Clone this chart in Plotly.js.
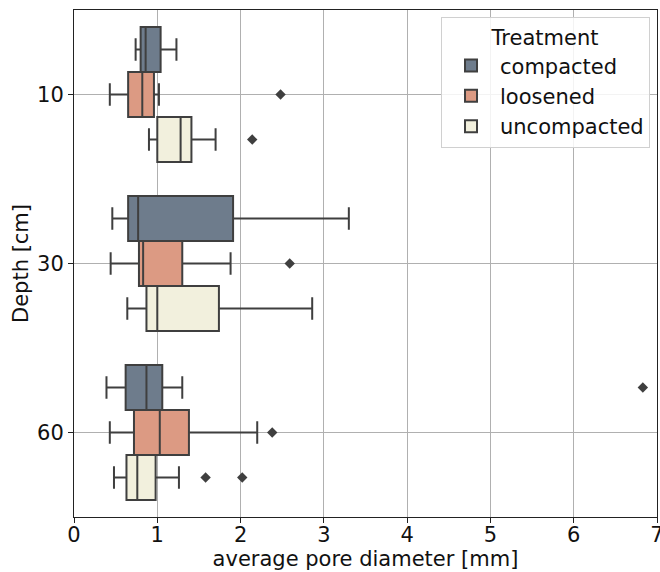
<!DOCTYPE html>
<html>
<head>
<meta charset="utf-8">
<script src="https://cdn.plot.ly/plotly-3.0.1.min.js"></script>
<style>
  html, body { margin: 0; padding: 0; background: #ffffff; }
  #chart { width: 660px; height: 572px; }
</style>
</head>
<body>
<div id="chart"></div>
<script>
// Depth categories (cm)
const depths = ['10', '30', '60'];
const treatments = ['compacted', 'loosened', 'uncompacted'];

// Box statistics for average pore diameter [mm], one value per depth
const compactedLow    = [0.74, 0.46, 0.39];
const compactedQ1     = [0.80, 0.65, 0.62];
const compactedMedian = [0.86, 0.77, 0.87];
const compactedQ3     = [1.04, 1.91, 1.06];
const compactedHigh   = [1.23, 3.30, 1.30];
const compactedOutlierDepth = ['60'];
const compactedOutlierValue = [6.83];

const loosenedLow    = [0.43, 0.44, 0.43];
const loosenedQ1     = [0.65, 0.78, 0.72];
const loosenedMedian = [0.82, 0.83, 1.03];
const loosenedQ3     = [0.96, 1.30, 1.38];
const loosenedHigh   = [1.02, 1.88, 2.20];
const loosenedOutlierDepth = ['10', '30', '60'];
const loosenedOutlierValue = [2.48, 2.59, 2.38];

const uncompactedLow    = [0.90, 0.64, 0.48];
const uncompactedQ1     = [1.00, 0.87, 0.63];
const uncompactedMedian = [1.28, 1.00, 0.76];
const uncompactedQ3     = [1.41, 1.74, 0.98];
const uncompactedHigh   = [1.70, 2.86, 1.26];
const uncompactedOutlierDepth = ['10', '60', '60'];
const uncompactedOutlierValue = [2.14, 1.58, 2.02];

const colors = ['#6e7c8c', '#dc9a83', '#f2f0dd'];
const edge = '#3f3f3f';
const fontSize = 21;

function boxTrace(name, color, low, q1, med, q3, high) {
  return {
    type: 'box',
    orientation: 'h',
    name: name,
    legendgroup: name,
    y: depths,
    lowerfence: low,
    q1: q1,
    median: med,
    q3: q3,
    upperfence: high,
    boxpoints: false,
    whiskerwidth: 0.5,
    fillcolor: color,
    line: { color: edge, width: 2 }
  };
}

// Outlier diamonds, dodged per treatment like the boxes
function outlierTrace(name, depth, value) {
  return {
    type: 'scatter',
    mode: 'markers',
    orientation: 'h',
    name: name,
    legendgroup: name,
    showlegend: false,
    y: depth,
    x: value,
    marker: { symbol: 'diamond', color: edge, size: 8, line: { width: 0 } }
  };
}

const data = [
  boxTrace(treatments[0], colors[0], compactedLow, compactedQ1, compactedMedian, compactedQ3, compactedHigh),
  boxTrace(treatments[1], colors[1], loosenedLow, loosenedQ1, loosenedMedian, loosenedQ3, loosenedHigh),
  boxTrace(treatments[2], colors[2], uncompactedLow, uncompactedQ1, uncompactedMedian, uncompactedQ3, uncompactedHigh),
  outlierTrace(treatments[0], compactedOutlierDepth, compactedOutlierValue),
  outlierTrace(treatments[1], loosenedOutlierDepth, loosenedOutlierValue),
  outlierTrace(treatments[2], uncompactedOutlierDepth, uncompactedOutlierValue)
];

const layout = {
  width: 660,
  height: 572,
  margin: { l: 74, r: 3, t: 10, b: 55 },
  paper_bgcolor: '#ffffff',
  plot_bgcolor: '#ffffff',
  font: { family: 'DejaVu Sans, sans-serif', size: fontSize, color: '#111111' },
  boxmode: 'group',
  boxgap: 0.2,
  boxgroupgap: 0,
  scattermode: 'group',
  scattergap: 0.2,
  showlegend: true,
  legend: {
    x: 0.988, y: 0.986, xanchor: 'right', yanchor: 'top',
    bgcolor: 'rgba(255,255,255,0.85)',
    bordercolor: '#d0d0d0', borderwidth: 1,
    title: { text: 'Treatment', side: 'top center', font: { size: fontSize } },
    font: { size: fontSize },
    itemwidth: 48,
    tracegroupgap: 0
  },
  xaxis: {
    range: [0, 7],
    dtick: 1,
    showgrid: true,
    gridcolor: '#b0b0b0',
    gridwidth: 1,
    zeroline: false,
    showline: true,
    mirror: true,
    linecolor: '#222222',
    linewidth: 1,
    ticks: 'outside',
    ticklen: 5,
    tickcolor: '#222222',
    ticklabeloverflow: 'allow',
    ticklabelstandoff: -6,
    tickfont: { size: fontSize },
    title: { text: 'average pore diameter [mm]', font: { size: fontSize }, standoff: 0 }
  },
  yaxis: {
    type: 'category',
    categoryorder: 'array',
    categoryarray: depths,
    range: [2.5, -0.5],
    showgrid: true,
    gridcolor: '#b0b0b0',
    gridwidth: 1,
    zeroline: false,
    showline: true,
    mirror: true,
    linecolor: '#222222',
    linewidth: 1,
    ticks: 'outside',
    ticklen: 5,
    tickcolor: '#222222',
    tickfont: { size: fontSize },
    title: { text: 'Depth [cm]', font: { size: fontSize }, standoff: 2 }
  }
};

Plotly.newPlot('chart', data, layout, { displayModeBar: false, staticPlot: true });
</script>
</body>
</html>
